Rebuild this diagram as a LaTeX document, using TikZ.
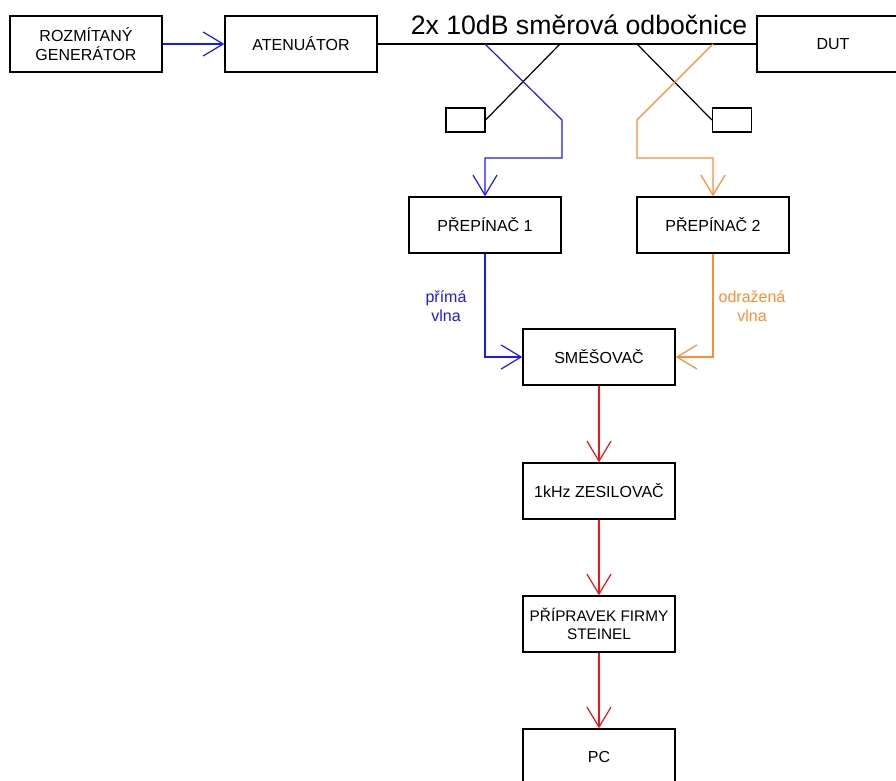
\documentclass[tikz,border=0pt]{standalone}
\usepackage{fontspec}
\setmainfont{Liberation Sans}
\usetikzlibrary{arrows.meta,positioning}
\definecolor{vlnablue}{RGB}{25,25,255}
\definecolor{vlnaorange}{RGB}{255,140,50}
\definecolor{sigred}{RGB}{240,20,20}
\tikzstyle{block}  = [draw=black, line width=1.1pt, minimum width=114pt, minimum height=42pt, align=center, inner sep=2pt, font=\fontsize{12}{14}\selectfont]
\tikzstyle{load}   = [draw=black, line width=1.1pt, minimum width=29pt, minimum height=18pt, inner sep=0pt]
\tikzstyle{note}   = [align=center, font=\fontsize{12}{14}\selectfont]
\tikzstyle{arrow}  = [line width=0.9pt, -{Straight Barb[length=15pt,width=18pt]}]

\begin{document}
\begin{tikzpicture}[x=0.75pt,y=-0.75pt]
        \useasboundingbox (0,0) rectangle (896,781);
        \clip (0,0) rectangle (896,781);

        % upper chain
        \node[block] (gen) at (86,44) {ROZMÍTANÝ\\GENERÁTOR};
        \node[block] (att) at (301,44) {ATENUÁTOR};
        \node[block] (dut) at (833,44) {DUT};
        \node[anchor=base, font=\fontsize{20}{24}\selectfont] (title) at (579,35) {2x 10dB směrová odbočnice};

        % coupler taps and loads
        \coordinate (fwd) at (485,44);
        \coordinate (fwdload) at (560,44);
        \coordinate (refload) at (637,44);
        \coordinate (ref) at (713,44);
        \coordinate (fwdbend) at (562,120);
        \coordinate (refbend) at (637,120);
        \node[load] (z1) at (465.5,120) {};
        \node[load] (z2) at (732,120) {};

        % lower chain
        \node[block] (sw1) at (485,225) {PŘEPÍNAČ 1};
        \node[block] (sw2) at (713,225) {PŘEPÍNAČ 2};
        \node[block] (mix) at (599,357) {SMĚŠOVAČ};
        \node[block] (amp) at (599,491) {1kHz ZESILOVAČ};
        \node[block, font=\fontsize{11.5}{14}\selectfont] (jig) at (599,624) {PŘÍPRAVEK FIRMY\\STEINEL};
        \node[block] (pc)  at (599,757) {PC};

        \node[note, text=vlnablue] (lfwd) at (446,306) {přímá\\vlna};
        \node[note, text=vlnaorange] (lref) at (752,306) {odražená\\vlna};

        % connections
        \draw[arrow, vlnablue] (gen) -- (att);
        \draw[line width=0.9pt] (att) -- (dut);
        \draw[line width=0.9pt] (fwdload) -- (z1.east);
        \draw[line width=0.9pt] (refload) -- (z2.west);
        \draw[arrow, vlnablue] (fwd) -- (fwdbend) -- ++(0,38) -| (sw1);
        \draw[arrow, vlnaorange] (ref) -- (refbend) -- ++(0,38) -| (sw2);
        \draw[arrow, vlnablue] (sw1.south) |- (mix.west);
        \draw[arrow, vlnaorange] (sw2.south) |- (mix.east);
        \draw[arrow, sigred] (mix) -- (amp);
        \draw[arrow, sigred] (amp) -- (jig);
        \draw[arrow, sigred] (jig) -- (pc);
\end{tikzpicture}
\end{document}
